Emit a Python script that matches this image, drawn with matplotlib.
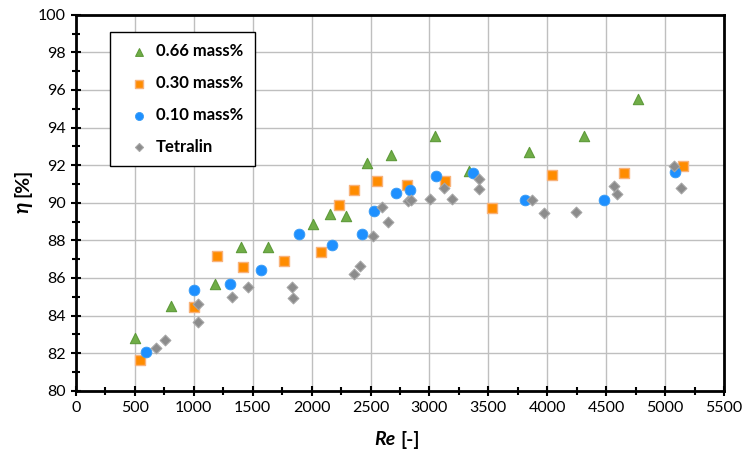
import matplotlib
matplotlib.use("Agg")
import matplotlib.pyplot as plt
from matplotlib.ticker import MultipleLocator

plt.rcParams['font.family'] = ['Lato', 'DejaVu Sans']

# Reynolds number and efficiency for each loading
re_066 = [500, 803, 1179, 1403, 1626, 2008, 2153, 2288, 2472, 2670, 3046, 3335, 3844, 4314, 4767]
eta_066 = [82.78, 84.51, 85.68, 87.66, 87.63, 88.87, 89.42, 89.29, 92.10, 92.54, 93.56, 91.69, 92.68, 93.56, 95.52]

re_030 = [540, 1000, 1199, 1417, 1768, 2079, 2232, 2362, 2555, 2806, 3131, 3530, 4037, 4651, 5151]
eta_030 = [81.61, 84.44, 87.15, 86.60, 86.90, 87.40, 89.89, 90.69, 91.15, 90.96, 91.17, 89.70, 91.47, 91.56, 91.94]

re_010 = [593, 1004, 1304, 1567, 1895, 2175, 2424, 2529, 2716, 2831, 3052, 3368, 3813, 4484, 5081]
eta_010 = [82.07, 85.38, 85.70, 86.42, 88.34, 87.77, 88.32, 89.54, 90.51, 90.68, 91.44, 91.56, 90.13, 90.13, 91.62]

re_tet = [678, 758, 1038, 1038, 1324, 1459, 1833, 1841, 2362, 2410, 2518, 2597, 2648,
          2817, 2845, 3007, 3126, 3193, 3423, 3417, 3869, 3971, 4240, 4565, 4594, 5072, 5132]
eta_tet = [82.28, 82.71, 84.60, 83.66, 84.99, 85.54, 85.50, 84.94, 86.19, 86.64, 88.25, 89.79, 88.96,
           90.07, 90.14, 90.21, 90.78, 90.20, 91.26, 90.74, 90.13, 89.47, 89.51, 90.89, 90.45, 91.94, 90.80]

x_ticks = list(range(0, 5501, 500))
y_ticks = list(range(80, 101, 2))

fig = plt.figure(figsize=(7.42, 4.54), dpi=100)
ax = fig.add_axes([0.1024, 0.1394, 0.8733, 0.8282])

ax.set_xlim(0, 5500)
ax.set_ylim(80, 100)
ax.set_xticks(x_ticks)
ax.set_yticks(y_ticks)
ax.xaxis.set_minor_locator(MultipleLocator(250))
ax.yaxis.set_minor_locator(MultipleLocator(1))
ax.grid(True, which='major', color='#bfbfbf', linewidth=1.0, zorder=0)
ax.set_axisbelow(True)

for side in ax.spines.values():
    side.set_linewidth(2.0)
    side.set_color('black')

ax.tick_params(which='both', direction='inout', width=1.5, labelsize=11.5, color='black')
ax.tick_params(which='major', length=7, pad=4)
ax.tick_params(which='minor', length=6)
ax.tick_params(axis='both', which='both', right=False, top=False)

ax.scatter(re_066, eta_066, marker='^', s=55, color='#70ad47', edgecolors='#5e9a3a',
           linewidths=0.8, label='0.66 mass%', zorder=3)
ax.scatter(re_030, eta_030, marker='s', s=58, color='#ff8c00', edgecolors='#f8b27a',
           linewidths=1.0, label='0.30 mass%', zorder=3)
ax.scatter(re_010, eta_010, marker='o', s=60, color='#1e90ff', edgecolors='#3a9cf5',
           linewidths=0.6, label='0.10 mass%', zorder=3)
ax.scatter(re_tet, eta_tet, marker='D', s=30, color='#8c8c8c', edgecolors='#a6a6a6',
           linewidths=0.8, label='Tetralin', zorder=3)

# Axis titles: italic bold symbol followed by bold unit
fig.text(0.533, 0.031, 'Re', fontsize=14, fontweight='bold', style='italic', ha='right', va='center')
fig.text(0.540, 0.031, '[-]', fontsize=14, fontweight='bold', ha='left', va='center')
fig.text(0.030, 0.557, 'η', fontsize=15, fontweight='bold', style='italic', rotation=90,
         ha='center', va='top')
fig.text(0.030, 0.566, '[%]', fontsize=14, fontweight='bold', rotation=90, ha='center', va='bottom')

leg = ax.legend(loc='upper left', bbox_to_anchor=(0.053, 0.955), frameon=True, fancybox=False,
                edgecolor='black', framealpha=1, prop={'weight': 'bold', 'size': 12},
                handletextpad=0.05, labelspacing=0.95, borderpad=0.7, markerscale=0.75,
                handlelength=2.0, borderaxespad=0)
leg.get_frame().set_linewidth(1.0)

fig.savefig('out.png', dpi=100)
